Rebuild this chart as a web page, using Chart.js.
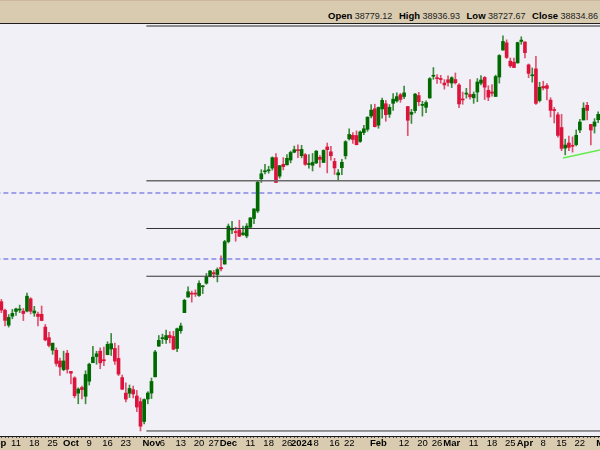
<!DOCTYPE html>
<html>
<head>
<meta charset="utf-8">
<script src="https://cdn.jsdelivr.net/npm/chart.js@4/dist/chart.umd.min.js"></script>
<style>
    body { margin: 0; background: #d9cbb0; }
    #hdr {
        width: 598px; height: 22px; padding-right: 2px;
        border-top: 1px solid #cdb89c; border-bottom: 1px solid #1e1e1e;
        font: 9px 'Liberation Sans', Arial, sans-serif; color: #222;
        text-align: right; line-height: 30px; overflow: hidden; white-space: nowrap;
    }
    #hdr b { color: #000; margin-left: 4px; font-size: 9.5px; }
    #wrap { position: relative; width: 600px; height: 426px; }
</style>
</head>
<body>
<div id="hdr"><b>Open</b> 38779.12 <b>High</b> 38936.93 <b>Low</b> 38727.67 <b>Close</b> 38834.86</div>
<div id="wrap"><canvas id="chart"></canvas></div>
<script>
// daily candles, Sep 1 2023 .. Apr 29 2024, one entry per trading day
var opens = [
    34722,34801,34637,34352,34523,34616,34642,34620,34622,34856,
    34584,34562,34560,34316,34112,33873,33870,33667,33501,33816,
    33466,33343,33051,33158,32991,33279,33633,33751,33854,33691,
    33788,33896,33907,33716,33349,33052,33049,33117,32997,32889,
    32509,32939,33053,33364,33950,34094,34074,34156,34135,33906,
    34247,34592,34890,34950,34959,34920,35087,35154,35291,35357,
    35321,35454,35521,35952,36175,36134,36176,36085,36059,36227,
    36393,36536,37153,37287,37306,37358,37558,37203,37430,37419,
    37512,37661,37701,37595,37614,37426,37412,37456,37564,37465,
    37762,37669,37485,37228,37366,37593,37917,37986,37981,37868,
    38038,38100,38354,38492,38179,38490,38589,38389,38597,38643,
    38761,38727,38535,38387,38458,38746,38558,38520,38700,39115,
    39084,39058,38985,39048,38985,39052,38948,38681,38774,38766,
    38703,38812,38982,39092,38846,38813,38728,39100,39616,39754,
    39404,39384,39371,39782,39770,39333,39124,39256,38650,38921,
    38935,38659,38468,38378,38134,37740,37838,37789,37807,38087,
    38278,38560,38193,38160,38283
];
var highs = [
    34979,34844,34662,34555,34653,34681,34736,34672,34968,34879,
    34712,34600,34718,34365,34216,34010,33917,33722,33855,33871,
    33469,33365,33153,33186,33480,33625,33949,33852,33917,33933,
    34034,34193,34007,33963,33397,33248,33207,33184,33103,32961,
    32944,33079,33340,33869,34154,34181,34257,34227,34234,34296,
    34392,34848,35087,35004,35028,35198,35111,35342,35395,35398,
    35450,35679,35975,36288,36340,36227,36361,36250,36296,36412,
    36578,37107,37327,37432,37393,37573,37634,37411,37558,37618,
    37683,37779,37801,37794,37636,37614,37638,37694,37599,37708,
    37838,37775,37544,37330,37527,37883,38109,38037,38070,38069,
    38177,38338,38571,38580,38527,38697,38652,38573,38783,38800,
    38788,38927,38540,38480,38786,38808,38637,38644,39089,39282,
    39148,39133,39051,39123,39105,39178,38974,38812,38885,39050,
    38815,39071,39130,39110,38934,38958,39137,39529,39889,39811,
    39464,39461,39768,39871,39780,39350,39274,39497,39000,39020,
    38977,38704,38518,38418,38386,37911,37968,37955,38088,38293,
    38609,38617,38193,38304,38433
];
var lows = [
    34667,34590,34339,34316,34474,34539,34592,34440,34605,34566,
    34521,34337,34436,34052,33934,33793,33570,33390,33480,33434,
    33226,32961,32847,32939,32847,33206,33633,33604,33518,33579,
    33785,33772,33603,33387,33117,32882,32968,32959,32698,32327,
    32460,32847,32947,33363,33949,33999,34004,34012,33880,33845,
    34197,34592,34890,34793,34901,34902,34956,35136,35276,35259,
    35180,35389,35521,35925,36105,35959,36045,36067,36023,36214,
    36294,36504,37082,37247,37260,37319,37078,37163,37323,37419,
    37458,37650,37555,37554,37409,37358,37303,37443,37376,37465,
    37266,37507,37236,37123,37234,37533,37892,37832,37801,37848,
    37996,38061,38316,38144,38120,38313,38254,38327,38463,38617,
    38617,38688,37980,38212,38413,38551,38353,38418,38694,39056,
    38977,38982,38869,38927,38898,38966,38514,38579,38696,38675,
    38597,38628,38950,38669,38648,38733,38728,38984,39616,39455,
    39284,39279,39365,39726,39467,39089,39003,38577,38623,38853,
    38664,38336,38221,37951,37691,37611,37689,37663,37783,38035,
    38278,38280,37800,38028,38227
];
var closes = [
    34837,34641,34443,34500,34577,34663,34646,34575,34907,34618,
    34624,34518,34441,34070,33964,34007,33619,33551,33667,33508,
    33433,33002,33129,33120,33408,33605,33740,33804,33631,33670,
    33985,33998,33665,33415,33127,32937,33141,33035,32785,32418,
    32929,33053,33275,33839,34061,34096,34153,34112,33892,34283,
    34337,34828,34991,34945,34947,35151,35088,35273,35390,35333,
    35417,35430,35951,36245,36204,36124,36054,36117,36247,36404,
    36577,37090,37248,37305,37306,37557,37083,37404,37385,37545,
    37657,37710,37690,37715,37430,37440,37466,37683,37525,37696,
    37711,37593,37361,37267,37469,37863,38001,37905,37806,38050,
    38109,38333,38467,38150,38519,38654,38380,38521,38677,38726,
    38671,38797,38273,38424,38773,38628,38564,38612,39069,39131,
    39069,39053,38949,38996,39087,38990,38585,38661,38791,38723,
    38770,39005,39043,38906,38715,38790,39110,39512,39781,39475,
    39313,39282,39760,39807,39567,39170,39127,38597,38904,38892,
    38883,38462,38459,37983,37735,37799,37753,37775,37986,38240,
    38504,38461,38086,38240,38386
];

// axis labels: trading-day index -> text
var tickPos  = [0, 5, 10, 15, 20, 25, 30, 35, 42, 45, 50, 55, 59, 63, 69, 74, 79, 83,
                87, 92, 96, 104, 111, 116, 120, 124, 130, 135, 140, 144, 149, 154, 159, 166];
var tickText = ['Sep','11','18','25','Oct','9','16','23','Nov','6','13','20','27','Dec','11','18','26','2024',
                '8','16','22','Feb','12','20','26','Mar','11','18','25','Apr','8','15','22','May'];

// retracement levels (low 32327 -> high 40077), support levels, trend line
var fibLevels   = [40077, 37116, 36202, 35288, 32327];
var fibStart    = 40.6;
var blueLevels  = [36881, 35618];
var trendPoints = [[154.4, 37551], [164.6, 37705]];

var UP = '#006a00', DOWN = '#dc143c';
var UP_WICK = '#3d8a3d', DOWN_WICK = '#e2506f';

var labelAt = {};
tickPos.forEach(function (p, i) { labelAt[p] = tickText[i]; });

var wicks = [], bodies = [], bodyColors = [], wickColors = [];
closes.forEach(function (c, i) {
    var up = c >= opens[i];
    wicks.push({ x: i, y: [lows[i], highs[i]] });
    bodies.push({ x: i, y: [opens[i], c] });
    bodyColors.push(up ? UP : DOWN);
    wickColors.push(up ? UP_WICK : DOWN_WICK);
});

function hline(y, x0, x1, color, width, dash) {
    return {
        type: 'line',
        data: [{ x: x0, y: y }, { x: x1, y: y }],
        borderColor: color, borderWidth: width, borderDash: dash || [],
        pointRadius: 0, order: 0
    };
}

var datasets = [
    { type: 'bar', data: wicks, backgroundColor: wickColors, barThickness: 1, grouped: false, order: 3 },
    { type: 'bar', data: bodies, backgroundColor: bodyColors, barThickness: 3, minBarLength: 1, grouped: false, order: 2 }
];
fibLevels.forEach(function (v, i) {
    datasets.push(hline(v, fibStart, 170, i < 2 ? '#6a6a6a' : '#333', i < 2 ? 1.5 : 1));
});
blueLevels.forEach(function (v) {
    datasets.push(hline(v, -5, 170, '#5050e0', 1, [5, 3]));
});
datasets.push({
    type: 'line',
    data: trendPoints.map(function (p) { return { x: p[0], y: p[1] }; }),
    borderColor: '#62ec48', borderWidth: 1.5, pointRadius: 0, order: 0
});

var background = {
    id: 'background',
    beforeDraw: function (chart) {
        var ctx = chart.ctx, a = chart.chartArea;
        ctx.save();
        ctx.fillStyle = '#d9cbb0';
        ctx.fillRect(0, 0, chart.width, chart.height);
        ctx.fillStyle = '#f0f0f6';
        ctx.fillRect(a.left, a.top, a.right - a.left, a.bottom - a.top);
        ctx.restore();
    }
};

new Chart(document.getElementById('chart'), {
    type: 'bar',
    data: { datasets: datasets },
    options: {
        responsive: true,
        maintainAspectRatio: false,
        animation: false,
        layout: { padding: 0 },
        plugins: {
            legend:  { display: false },
            tooltip: { enabled: false }
        },
        scales: {
            x: {
                type: 'linear',
                min: 0.63, max: 164.5,
                offset: false,
                afterBuildTicks: function (axis) {
                    var t = [];
                    for (var i = 0; i <= 166; i++) t.push({ value: i });
                    axis.ticks = t;
                },
                afterFit: function (axis) {
                    axis.height = 14;
                    axis.paddingLeft = 0;
                    axis.paddingRight = 0;
                },
                ticks: {
                    autoSkip: false, maxRotation: 0, minRotation: 0, padding: 0,
                    color: '#000',
                    font: function (ctx) {
                        var s = labelAt[ctx.tick && ctx.tick.value] || '';
                        return { family: "'Liberation Sans', Arial", size: 9.5,
                                 weight: s.length > 2 ? 'bold' : 'normal' };
                    },
                    callback: function (v) { return labelAt[v] || ''; }
                },
                grid: {
                    offset: false, drawOnChartArea: false, drawTicks: true,
                    tickLength: 2, tickColor: '#444', tickWidth: 1
                },
                border: { display: true, color: '#1e1e1e', width: 1 }
            },
            y: {
                display: false,
                min: 32231, max: 40115
            }
        }
    },
    plugins: [background]
});
</script>
</body>
</html>
